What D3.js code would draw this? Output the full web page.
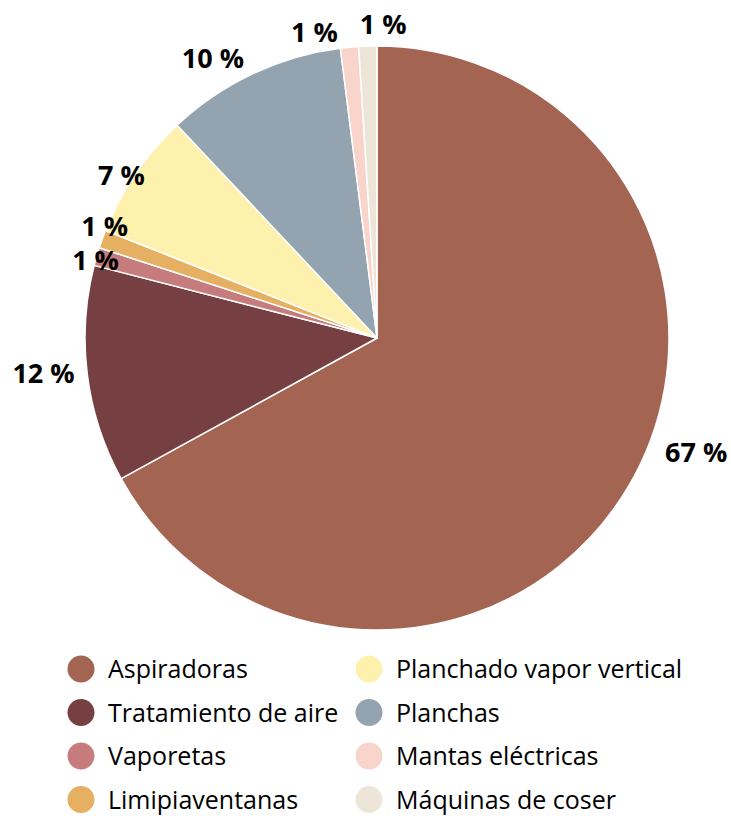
<!DOCTYPE html>
<html>
<head>
<meta charset="utf-8">
<script src="https://cdn.jsdelivr.net/npm/d3@7"></script>
<style>
  html, body { margin: 0; padding: 0; background: #fff; }
  svg { display: block; }
  text { font-family: "Open Sans", "Noto Sans", sans-serif; }
</style>
</head>
<body>
<div class="chart"></div>
<script>
// data
var categories = ["Aspiradoras", "Tratamiento de aire", "Vaporetas", "Limipiaventanas",
                  "Planchado vapor vertical", "Planchas", "Mantas eléctricas", "Máquinas de coser"];
var shares = [67, 12, 1, 1, 7, 10, 1, 1];
var colors = ["#A36452", "#763F42", "#C67C7C", "#E6B062", "#FEF1AE", "#93A3AF", "#F8D4CB", "#EDE5D8"];

// hand-placed label offsets from the outer centroid (as in the original layout)
var labelNudge = [[48, -46], [-21, -4], [21, 10], [24, -5], [5, 14], [-30, 5], [-33, 8], [16, 1]];

var width = 731, height = 816,
    cx = 377, cy = 338, radius = 292;

var svg = d3.select(".chart").append("svg")
    .attr("width", width)
    .attr("height", height);

var pie = d3.pie().sort(null).value(function(d) { return d; });
var arc = d3.arc().innerRadius(0).outerRadius(radius);
var labelArc = d3.arc().innerRadius(315).outerRadius(315);

var arcs = pie(shares);

var g = svg.append("g").attr("transform", "translate(" + cx + "," + cy + ")");

g.selectAll("path.slice")
    .data(arcs)
  .enter().append("path")
    .attr("class", "slice")
    .attr("d", arc)
    .style("fill", function(d, i) { return colors[i]; })
    .style("stroke", "#fff")
    .style("stroke-width", 1.5)
    .style("stroke-linejoin", "round");

g.selectAll("text.pct")
    .data(arcs)
  .enter().append("text")
    .attr("class", "pct")
    .attr("x", function(d, i) { return labelArc.centroid(d)[0] + labelNudge[i][0]; })
    .attr("y", function(d, i) { return labelArc.centroid(d)[1] + labelNudge[i][1]; })
    .attr("dy", "0.36em")
    .style("text-anchor", "middle")
    .style("font-size", "27px")
    .style("font-weight", "bold")
    .style("fill", "#000")
    .text(function(d) { return d.data + " %"; });

// legend: two columns of four
var legend = svg.selectAll("g.legend")
    .data(categories)
  .enter().append("g")
    .attr("class", "legend")
    .attr("transform", function(d, i) {
        var col = Math.floor(i / 4), row = i % 4;
        return "translate(" + (81 + col * 288) + "," + (669 + row * 43.5) + ")";
    });

legend.append("circle")
    .attr("r", 13.5)
    .style("fill", function(d, i) { return colors[i]; });

legend.append("text")
    .attr("x", 27)
    .attr("dy", "0.36em")
    .style("font-size", "25px")
    .style("fill", "#000")
    .text(String);
</script>
</body>
</html>
